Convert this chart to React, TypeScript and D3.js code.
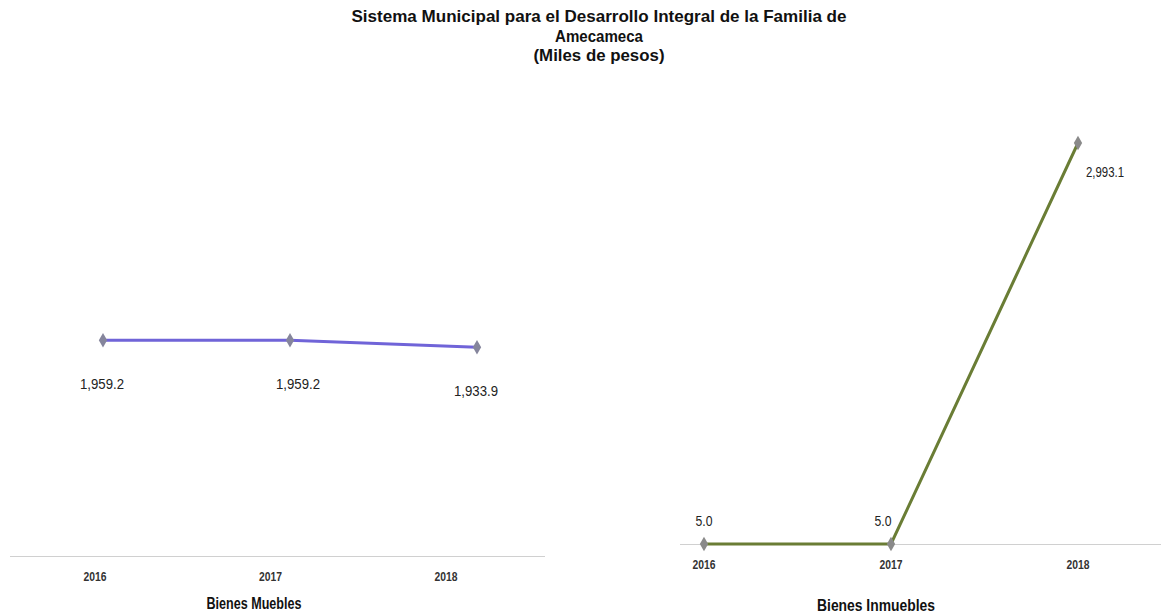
import React from "react";
import * as d3 from "d3";

const years = ["2016", "2017", "2018"];
const mueblesValues = [1959.2, 1959.2, 1933.9];
const inmueblesValues = [5.0, 5.0, 2993.1];
const titleLines = [
  "Sistema Municipal para el Desarrollo Integral de la Familia de",
  "Amecameca",
  "(Miles de pesos)",
];
const titleWidths = [495, 88, 131];
const FONT = "'Liberation Sans Narrow', 'Arial Narrow', 'Liberation Sans', Arial, sans-serif";
const fmt = d3.format(",.1f");

export default function App() {
  const W = 1161, H = 615;

  // Left chart
  const xL = d3.scalePoint<string>().domain(years).range([103, 477]);
  const xLTick = d3.scalePoint<string>().domain(years).range([95, 446]);
  const yL = d3.scaleLinear().domain([1180, 2700]).range([556, 135]);
  const lineL = d3.line<number>().x((_, i) => xL(years[i])!).y((d) => yL(d));
  const leftLabelDx = [-1, 8, -1];

  // Right chart
  const xR = d3.scalePoint<string>().domain(years).range([704, 1078]);
  const yR = d3.scaleLinear().domain([5, 2993.1]).range([544, 143]);
  const lineR = d3.line<number>().x((_, i) => xR(years[i])!).y((d) => yR(d));

  const diamond = d3.symbol().type(d3.symbolDiamond).size(60)()!;

  return (
    <svg width={W} height={H} style={{ position: "absolute", left: 0, top: 0, background: "#fff" }} fontFamily={FONT}>
      <rect width={W} height={H} fill="#fff" />
      {titleLines.map((t, i) => (
        <text key={i} x={599} y={22 + i * 19.5} textAnchor="middle" fontSize={17} fontWeight="bold" fill="#111"
          textLength={titleWidths[i]} lengthAdjust="spacingAndGlyphs">
          {t}
        </text>
      ))}

      {/* Left chart */}
      <line x1={10} x2={545} y1={556.5} y2={556.5} stroke="#d0d0d0" strokeWidth={1} />
      {years.map((y) => (
        <text key={y} x={xLTick(y)} y={581} textAnchor="middle" fontSize={13} fontWeight="bold" fill="#333"
          textLength={23} lengthAdjust="spacingAndGlyphs">
          {y}
        </text>
      ))}
      <text x={254} y={609} textAnchor="middle" fontSize={16} fontWeight="bold" fill="#111"
        textLength={95} lengthAdjust="spacingAndGlyphs">Bienes Muebles</text>
      <path d={lineL(mueblesValues)!} fill="none" stroke="#7064d8" strokeWidth={3} />
      {mueblesValues.map((v, i) => (
        <path key={i} d={diamond} transform={`translate(${xL(years[i])},${yL(v)})`} fill="#85859c" />
      ))}
      {mueblesValues.map((v, i) => (
        <text key={"l" + i} x={xL(years[i])! + leftLabelDx[i]} y={yL(v) + 49} textAnchor="middle" fontSize={14} fill="#222"
          textLength={44} lengthAdjust="spacingAndGlyphs">
          {fmt(v)}
        </text>
      ))}

      {/* Right chart */}
      <line x1={680} x2={1161} y1={544.5} y2={544.5} stroke="#d0d0d0" strokeWidth={1} />
      {years.map((y) => (
        <text key={y} x={xR(y)} y={569} textAnchor="middle" fontSize={13} fontWeight="bold" fill="#333"
          textLength={23} lengthAdjust="spacingAndGlyphs">
          {y}
        </text>
      ))}
      <text x={876} y={611} textAnchor="middle" fontSize={16} fontWeight="bold" fill="#111"
        textLength={118} lengthAdjust="spacingAndGlyphs">Bienes Inmuebles</text>
      <path d={lineR(inmueblesValues)!} fill="none" stroke="#6a7d35" strokeWidth={3} />
      {inmueblesValues.map((v, i) => (
        <path key={i} d={diamond} transform={`translate(${xR(years[i])},${yR(v)})`} fill="#8a8a8a" />
      ))}
      {inmueblesValues.map((v, i) =>
        i < 2 ? (
          <text key={"l" + i} x={xR(years[i])! - (i === 1 ? 8 : 0)} y={yR(v) - 18} textAnchor="middle" fontSize={14} fill="#222"
            textLength={17} lengthAdjust="spacingAndGlyphs">
            {fmt(v)}
          </text>
        ) : (
          <text key={"l" + i} x={xR(years[i])! + 8} y={yR(v) + 34} textAnchor="start" fontSize={14} fill="#222"
            textLength={38} lengthAdjust="spacingAndGlyphs">
            {fmt(v)}
          </text>
        )
      )}
    </svg>
  );
}
